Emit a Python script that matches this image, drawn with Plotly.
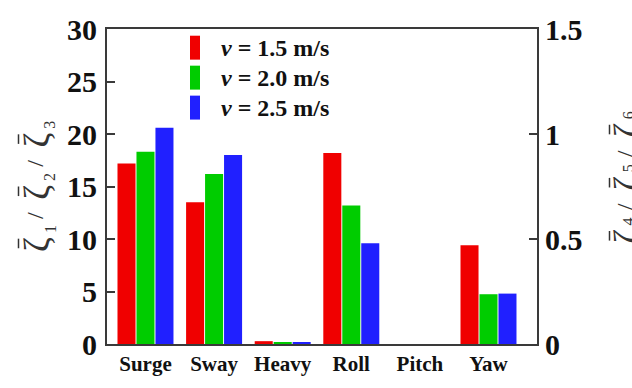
import plotly.graph_objects as go

# Response amplitude of each motion mode at three forward speeds
categories = ["Surge", "Sway", "Heavy", "Roll", "Pitch", "Yaw"]
speeds = ["1.5", "2.0", "2.5"]
colors = ["#f00000", "#00cc00", "#2020ff"]

# translational modes (left axis)
trans_v15 = [17.2, 13.5, 0.27]
trans_v20 = [18.3, 16.2, 0.18]
trans_v25 = [20.6, 18.0, 0.10]
# rotational modes (right axis)
rot_v15 = [0.91, 0.0, 0.47]
rot_v20 = [0.66, 0.0, 0.237]
rot_v25 = [0.48, 0.0, 0.24]

left_ticks = [0, 5, 10, 15, 20, 25, 30]
right_ticks = [0, 0.5, 1, 1.5]
right_ticktext = ["0", "0.5", "1", "1.5"]

# axis-title symbols: ζ̄ with subscripts, left axis 1-3, right axis 4-6
left_subs = ["1", "2", "3"]
right_subs = ["4", "5", "6"]

SERIF = "Liberation Serif"
AXIS = "#3a3a3a"
TITLE_COL = "#333"

trans = [trans_v15, trans_v20, trans_v25]
rot = [rot_v15, rot_v20, rot_v25]

fig = go.Figure()
for vals, col in zip(trans, colors):
    fig.add_trace(go.Bar(x=[0, 1, 2], y=vals, marker=dict(color=col, line=dict(width=0)),
                         showlegend=False, yaxis="y"))
for vals, col in zip(rot, colors):
    fig.add_trace(go.Bar(x=[3, 4, 5], y=vals, marker=dict(color=col, line=dict(width=0)),
                         showlegend=False, yaxis="y2"))

# plot area in pixels
L, R, T, B = 107, 537, 26, 355
W, H = R - L, B - T

def px(x):
    return (x - L) / W

def py(y):
    return (B - y) / H

shapes = []
annotations = []

def rot_text(x, y, text, size):
    annotations.append(dict(xref="paper", yref="paper", x=px(x), y=py(y),
                            xanchor="center", yanchor="middle", showarrow=False,
                            textangle=-90, text=text, borderpad=0,
                            font=dict(family=SERIF, size=size, color=TITLE_COL)))

def overbar(x, y0, y1):
    shapes.append(dict(type="line", xref="paper", yref="paper",
                       x0=px(x), x1=px(x), y0=py(y0), y1=py(y1),
                       line=dict(color=TITLE_COL, width=1.5)))

def axis_title(subs, zx, zy_first, step, sub_x, sub_dy, bar_x):
    # subs read bottom-to-top; zy_first is the centre of the lowest ζ
    for k, s in enumerate(subs):
        zy = zy_first - k * step
        rot_text(zx, zy, "ζ", 36)
        overbar(bar_x, zy - 6, zy + 4)
        rot_text(sub_x, zy + sub_dy, s, 16)
        if k < len(subs) - 1:
            rot_text(zx - 2, zy - step / 2 - 3, "/", 24)

axis_title(left_subs, 37.5, 251, 54.5, 50, -16, 18.5)
axis_title(right_subs, 627, 243, 55.5, 628, -16, 609.5)

# legend swatches and labels
for i, (s, col) in enumerate(zip(speeds, colors)):
    yc = 45.5 + i * 31.3
    shapes.append(dict(type="rect", xref="paper", yref="paper",
                       x0=px(190), x1=px(200), y0=py(yc + 12.5), y1=py(yc - 12.5),
                       fillcolor=col, line=dict(width=0)))
    annotations.append(dict(xref="paper", yref="paper", x=px(219), y=py(yc),
                            xanchor="left", yanchor="middle", showarrow=False,
                            text=f"<i>ν</i> = {s} m/s",
                            font=dict(family=SERIF, size=24, color="#111", weight="bold")))

fig.update_layout(
    width=632, height=388,
    margin=dict(l=L, r=632 - R, t=T, b=388 - B, pad=0),
    paper_bgcolor="white", plot_bgcolor="white",
    barmode="group", bargap=0.17, bargroupgap=0.05,
    showlegend=False,
    shapes=shapes, annotations=annotations,
    xaxis=dict(range=[-0.561, 5.707], tickmode="array", tickvals=list(range(6)),
               ticktext=categories, showgrid=False, zeroline=False,
               showline=True, mirror=True, linecolor=AXIS, linewidth=2, ticks="",
               tickfont=dict(family=SERIF, size=21, color="#111", weight="bold")),
    yaxis=dict(range=[0, 30], tickmode="array", tickvals=left_ticks, showgrid=False,
               zeroline=False, showline=True, linecolor=AXIS, linewidth=2,
               ticks="inside", ticklen=8, tickwidth=1.5, tickcolor=AXIS,
               ticklabelstandoff=2,
               tickfont=dict(family=SERIF, size=30, color="#111", weight="bold")),
    yaxis2=dict(range=[0, 1.5], tickmode="array", tickvals=right_ticks,
                ticktext=right_ticktext, overlaying="y", side="right", showgrid=False,
                zeroline=False, showline=True, linecolor=AXIS, linewidth=2,
                ticks="inside", ticklen=8, tickwidth=1.5, tickcolor=AXIS,
                ticklabelstandoff=0,
                tickfont=dict(family=SERIF, size=30, color="#111", weight="bold")),
)

fig.write_html("out.html")
